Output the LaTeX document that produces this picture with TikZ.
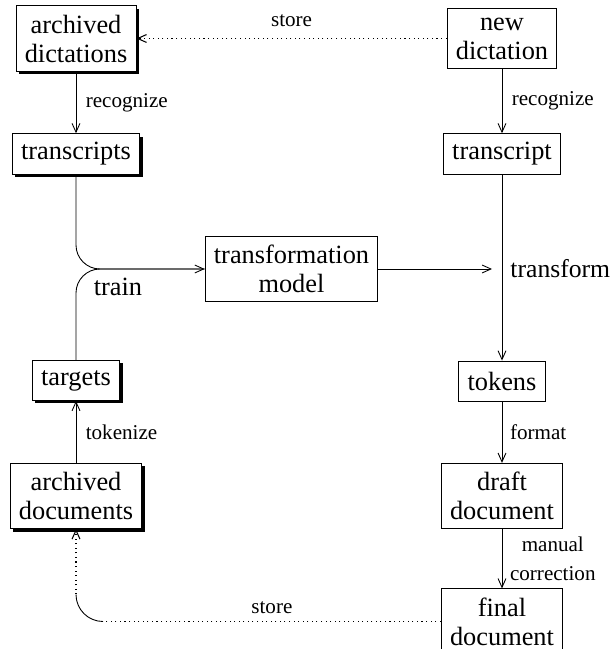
\documentclass[tikz,border=0pt]{standalone}
\usepackage{fontspec}
\setmainfont{Liberation Serif}
\usetikzlibrary{calc,shadows,arrows.meta}
\tikzset{
	box/.style={draw, fill=white, line width=0.5pt, align=center, inner xsep=5pt, inner ysep=5pt, minimum height=0.8cm, font=\fontsize{15}{16.5}\selectfont},
	shbox/.style={box, drop shadow={shadow xshift=0.06cm, shadow yshift=-0.06cm, fill=black, opacity=1}},
	lbl/.style={font=\fontsize{12}{16}\selectfont, align=left},
	biglbl/.style={font=\fontsize{15}{16.5}\selectfont},
	store/.style={dotted, line width=0.6pt},
	>={Straight Barb[length=5pt,width=4.5pt]}
}

\begin{document}
\begin{tikzpicture}[line width=0.5pt]
		%%%%% START %%%%%
		\useasboundingbox (0,0) rectangle (12.26,12.98);
		
		% left column
		\node[shbox] (archdict) at (1.52, 12.21) {archived\\dictations};
		\node[shbox] (transcripts) at (1.52, 9.9) {transcripts};
		\node[shbox] (targets) at (1.52, 5.37) {targets};
		\node[shbox] (archdocs) at (1.52, 3.06) {archived\\documents};
		
		% middle
		\node[box] (model) at (5.83, 7.6) {transformation\\model};
		
		% right column
		\node[box] (newdict) at (10.04, 12.21) {new\\dictation};
		\node[box] (transcript) at (10.04, 9.9) {transcript};
		\node[box] (tokens) at (10.04, 5.36) {tokens};
		\node[box] (draft) at (10.04, 3.06) {draft\\document};
		\node[box] (final) at (10.04, 0.55) {final\\document};
		
		% store (top)
		\draw[store, ->] (newdict.west) -- (archdict.east)
			node[lbl, midway, above=3pt] (storetop) {store};
		
		% recognize
		\draw[->] (archdict.south) -- (transcripts.north)
			node[lbl, midway, right=2pt] (recogl) {recognize};
		\draw[->] (newdict.south) -- (transcript.north)
			node[lbl, midway, right=2pt] (recogr) {recognize};
		
		% train
		\draw[->, rounded corners=0.48cm] (transcripts.south) |- (model.west);
		\draw[rounded corners=0.48cm] (targets.north) |- (model.west);
		\node[biglbl] (train) at (2.36, 7.24) {train};
		
		% transform
		\coordinate (tcross) at (transcript.south |- model.east);
		\coordinate (tend) at ($(tcross)+(-0.2,0)$);
		\draw[->] (model.east) -- (tend);
		\draw[->] (transcript.south) -- (tokens.north);
		\node[biglbl, anchor=west, inner xsep=0pt, font=\fontsize{14.6}{16}\selectfont] (transform) at ($(tcross)+(0.16,0)$) {transform};
		
		% tokenize, format, correction
		\draw[->] (archdocs.north) -- (targets.south)
			node[lbl, midway, right=2pt] (tokenize) {tokenize};
		\draw[->] (tokens.south) -- (draft.north)
			node[lbl, midway, right=1pt] (format) {format};
		\draw[->] (draft.south) -- (final.north)
			node[lbl, midway, right=1pt, align=center] (correct) {manual\\correction};
		
		% store (bottom)
		\coordinate (sbend) at (archdocs.south |- final.west);
		\draw[store] (final.west) -- ($(sbend)+(0.54,0)$)
			node[lbl, midway, above=1pt] (storebot) {store};
		\draw ($(sbend)+(0.54,0)$) arc (270:180:0.54);
		\draw[store, ->] ($(sbend)+(0,0.54)$) -- (archdocs.south);
		
		%%%%% END %%%%%
	\end{tikzpicture}
\end{document}
